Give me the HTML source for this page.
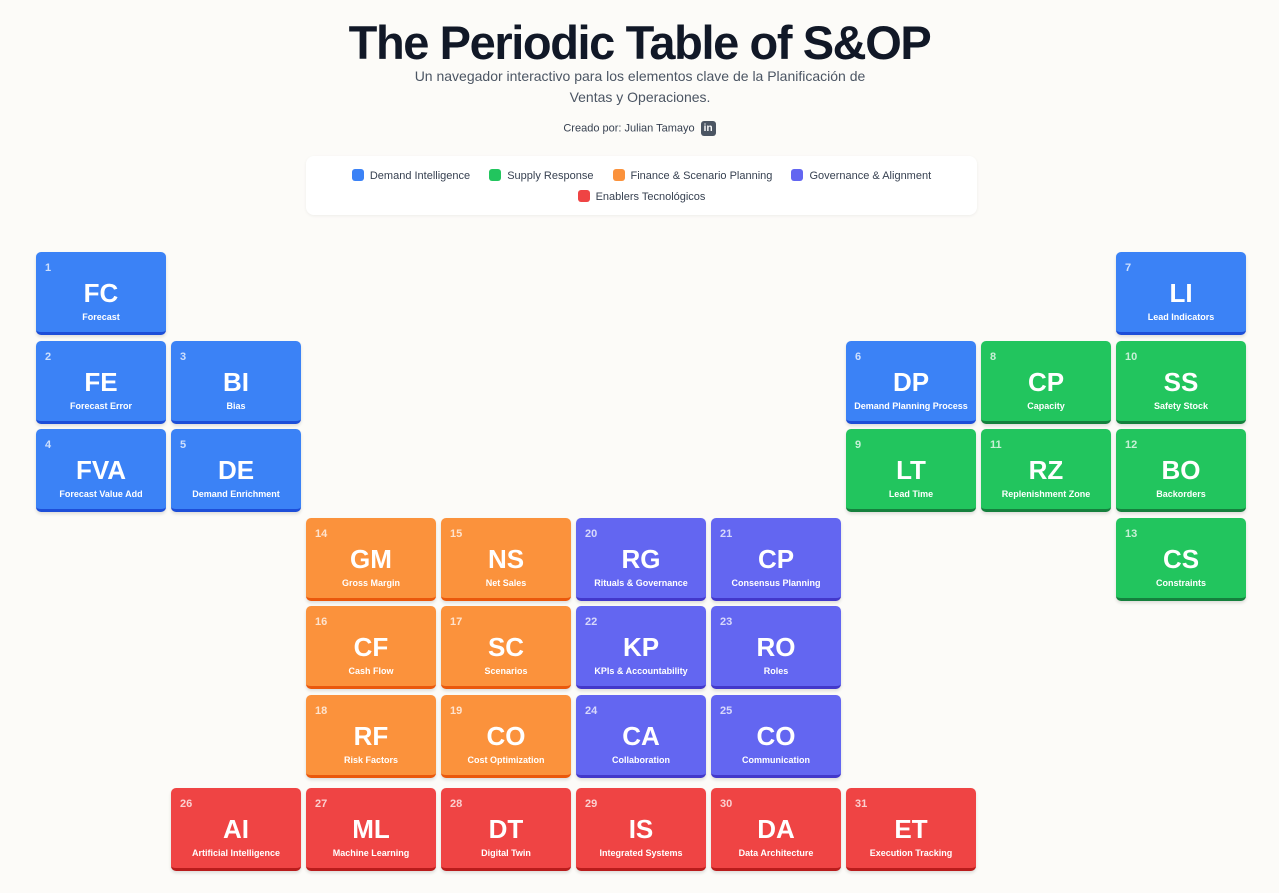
<!DOCTYPE html>
<html><head><meta charset="utf-8"><style>
body{margin:0;width:1279px;height:893px;background:#fcfbf8;font-family:"Liberation Sans",sans-serif;position:relative;overflow:hidden}
h1{position:absolute;left:0;width:1279px;top:15px;margin:0;text-align:center;font-size:47px;font-weight:900;letter-spacing:-1.4px;color:#111827}
.sub{position:absolute;left:400px;width:480px;top:66px;text-align:center;font-size:14px;line-height:21px;color:#4b5563}
.by{position:absolute;left:0;width:1279px;top:121px;text-align:center;font-size:11px;color:#374151}
.li{display:inline-block;width:15px;height:15px;background:#4b5563;color:#fff;border-radius:3px;font-size:10px;font-weight:bold;line-height:15px;vertical-align:middle;margin-left:6px}
.legend{position:absolute;left:306px;top:156px;width:671px;height:59px;background:#fff;border-radius:8px;box-shadow:0 1px 3px rgba(0,0,0,.06)}
.lrow{position:absolute;left:0;width:671px;text-align:center;font-size:11px;color:#374151}
.lit{display:inline-block;margin:0 8px}
.sw{display:inline-block;width:12px;height:12px;border-radius:3px;vertical-align:-2px;margin-right:6px}
.cell{position:absolute;width:130px;height:80px;border-radius:5px;color:#fff;box-shadow:0 2px 3px rgba(0,0,0,.12);text-align:center}
.num{position:absolute;left:9px;top:10px;font-size:11px;font-weight:bold;opacity:.75}
.sym{position:absolute;left:0;width:130px;top:26px;font-size:26px;font-weight:bold}
.nm{position:absolute;left:0;width:130px;top:60px;font-size:9px;font-weight:bold}
</style></head><body>
<h1>The Periodic Table of S&amp;OP</h1>
<div class="sub">Un navegador interactivo para los elementos clave de la Planificación de Ventas y Operaciones.</div>
<div class="by">Creado por: Julian Tamayo<span class="li">in</span></div>
<div class="legend">
<div class="lrow" style="top:13px">
<span class="lit"><span class="sw" style="background:#3b82f6"></span>Demand Intelligence</span>
<span class="lit"><span class="sw" style="background:#22c55e"></span>Supply Response</span>
<span class="lit"><span class="sw" style="background:#fb923c"></span>Finance &amp; Scenario Planning</span>
<span class="lit"><span class="sw" style="background:#6366f1"></span>Governance &amp; Alignment</span>
</div>
<div class="lrow" style="top:34px">
<span class="lit"><span class="sw" style="background:#ef4444"></span>Enablers Tecnológicos</span>
</div></div>
<div id="grid"></div>
<script>
const nums=[1,7,2,3,6,8,10,4,5,9,11,12,14,15,20,21,13,16,17,22,23,18,19,24,25,26,27,28,29,30,31];
const syms=["FC","LI","FE","BI","DP","CP","SS","FVA","DE","LT","RZ","BO","GM","NS","RG","CP","CS","CF","SC","KP","RO","RF","CO","CA","CO","AI","ML","DT","IS","DA","ET"];
const names=["Forecast","Lead Indicators","Forecast Error","Bias","Demand Planning Process","Capacity","Safety Stock","Forecast Value Add","Demand Enrichment","Lead Time","Replenishment Zone","Backorders","Gross Margin","Net Sales","Rituals & Governance","Consensus Planning","Constraints","Cash Flow","Scenarios","KPIs & Accountability","Roles","Risk Factors","Cost Optimization","Collaboration","Communication","Artificial Intelligence","Machine Learning","Digital Twin","Integrated Systems","Data Architecture","Execution Tracking"];
const cols=[0,8,0,1,6,7,8,0,1,6,7,8,2,3,4,5,8,2,3,4,5,2,3,4,5,1,2,3,4,5,6];
const rows=[0,0,1,1,1,1,1,2,2,2,2,2,3,3,3,3,3,4,4,4,4,5,5,5,5,6,6,6,6,6,6];
const cats=["d","d","d","d","d","s","s","d","d","s","s","s","f","f","g","g","s","f","f","g","g","f","f","g","g","e","e","e","e","e","e"];
const bg={d:"#3b82f6",s:"#22c55e",f:"#fb923c",g:"#6366f1",e:"#ef4444"};
const bd={d:"#1d4ed8",s:"#15803d",f:"#ea580c",g:"#4338ca",e:"#b91c1c"};
const rowY=[252,341,429,518,606,695,788];
const g=document.getElementById('grid');
syms.forEach((s,i)=>{
 const c=document.createElement('div');
 c.className='cell';
 
 
 c.style.left=(36+135*cols[i])+'px';
 c.style.top=rowY[rows[i]]+'px';
 c.style.background=bg[cats[i]];
 c.style.borderBottom='3px solid '+bd[cats[i]];
 c.innerHTML='<div class="num">'+nums[i]+'</div><div class="sym">'+s+'</div><div class="nm"></div>';
 c.querySelector('.nm').textContent=names[i];
 g.appendChild(c);
});
</script>
</body></html>
